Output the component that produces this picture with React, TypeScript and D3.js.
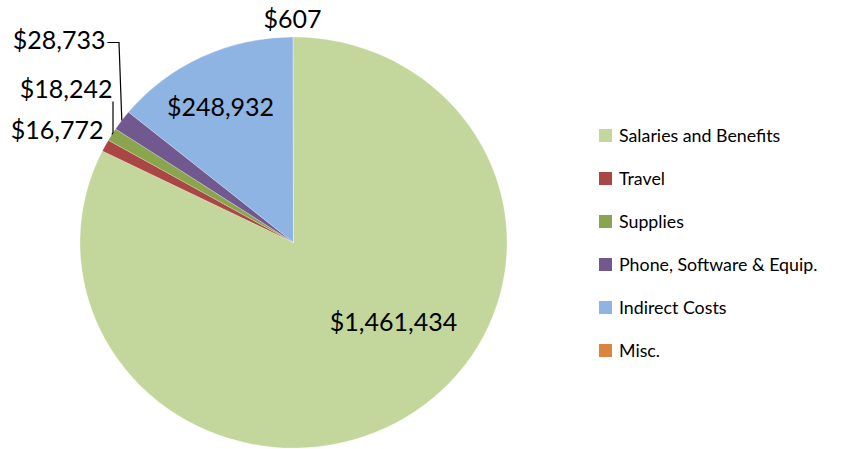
import React from "react";
import * as d3 from "d3";

const categories = ["Salaries and Benefits", "Travel", "Supplies", "Phone, Software & Equip.", "Indirect Costs", "Misc."];
const values = [1461434, 16772, 18242, 28733, 248932, 607];
const colors = ["#C3D69B", "#AA4643", "#89A54E", "#71588F", "#8EB4E3", "#DB843D"];
const valueLabels = ["$1,461,434", "$16,772", "$18,242", "$28,733", "$248,932", "$607"];

const W = 865, H = 449;
const cx = 293.5, cy = 242.5, R = 205.5, sx = 213.5 / 205.5;
// label anchor points (relative to pie centre), text-anchor
const labelPos: [number, number, string][] = [
  [100, 88, "middle"],
  [-190, -104, "end"],
  [-181, -145, "end"],
  [-188, -194, "end"],
  [-73, -127, "middle"],
  [-1, -215, "middle"],
];

export default function App() {
  const pie = d3.pie<number>().sort(null).value((d) => d).startAngle(0).endAngle(2 * Math.PI);
  const arcs = pie(values);
  const arc = d3.arc<d3.PieArcDatum<number>>().innerRadius(0).outerRadius(R);
  const font = "Lato, 'Open Sans', sans-serif";
  const edge = (a: d3.PieArcDatum<number>, r: number): [number, number] => {
    const m = (a.startAngle + a.endAngle) / 2;
    return [cx + Math.sin(m) * r * sx, cy - Math.cos(m) * r];
  };
  const pPhone = edge(arcs[3], R);
  const pSup = edge(arcs[2], R);
  return (
    <svg width={W} height={H} style={{ position: "absolute", left: 0, top: 0, background: "#fff" }}>
      <g transform={`translate(${cx},${cy}) scale(${sx},1)`}>
        {arcs.map((a, i) => (
          <path key={i} d={arc(a) || ""} fill={colors[i]} stroke="#ffffff" strokeWidth={0.4} strokeOpacity={0.6} />
        ))}
      </g>
      {/* leader lines */}
      <polyline points={`${cx + labelPos[3][0] + 2},${cy + labelPos[3][1] - 6} ${119},${cy + labelPos[3][1] - 6} ${pPhone[0]},${pPhone[1]}`} fill="none" stroke="#000" strokeWidth={1.2} />
      <polyline points={`${cx + labelPos[2][0] + 0.5},${cy + labelPos[2][1] + 4} ${cx + labelPos[2][0] + 0.5},${pSup[1] - 2} ${pSup[0]},${pSup[1]}`} fill="none" stroke="#000" strokeWidth={1.2} />
      {arcs.map((a, i) => (
        <text key={i} x={cx + labelPos[i][0]} y={cy + labelPos[i][1]} textAnchor={labelPos[i][2] as any} fontFamily={font} fontSize={25} fill="#000">
          {valueLabels[i]}
        </text>
      ))}
      {categories.map((c, i) => (
        <g key={c} transform={`translate(599,${129 + i * 43})`}>
          <rect width={13} height={13} fill={colors[i]} />
          <text x={20} y={13} fontFamily={font} fontSize={17.8} fill="#000">{c}</text>
        </g>
      ))}
    </svg>
  );
}
